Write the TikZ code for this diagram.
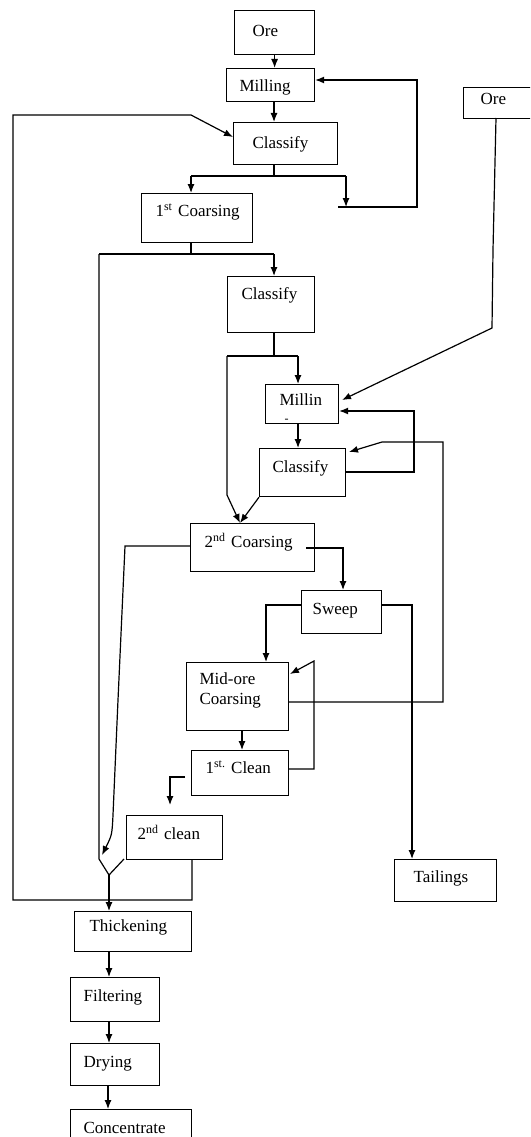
\documentclass[tikz,border=0pt]{standalone}
\usepackage{fontspec}
\setmainfont{Liberation Serif}
\usepackage{tikz}
\usetikzlibrary{arrows.meta}
\tikzset{>={Latex[length=9pt,width=7pt]}}
\tikzset{stage/.style n args={4}{draw, anchor=north west, inner sep=0pt,
    align=left, text width=#1pt, text height=#3pt, text depth=#4pt,
    execute at begin node={\leftskip=#2pt\relax},
    font=\fontsize{17}{20}\selectfont}}

\begin{document}
\begin{tikzpicture}[x=1pt, y=-1pt, line width=1.2pt]
    \path [use as bounding box, clip] (0,0) rectangle (530,1137);

    \node [stage={80}{18}{26}{18}] (ore) at (234,10) {Ore};
    \node [stage={88}{13}{23}{10}] (milling) at (226,68) {Milling};
    \node [stage={104}{19}{26}{16}] (cls1) at (233,122) {Classify};
    \node [stage={111}{14}{23}{26}] (coarse1) at (141,193)
    {1\textsuperscript{st}~Coarsing};
    \node [stage={70}{17}{17}{14}] (ore2) at (463,87) {Ore};
    \node [stage={87}{14}{23}{33}] (cls2) at (227,276) {Classify};
    \node [stage={73}{14}{21}{18}] (millin) at (265,384)
    {Millin\\[-3pt]\hspace*{5pt}\fontsize{12}{12}\selectfont -};
    \node [stage={86}{13}{24}{24}] (cls3) at (259,448) {Classify};
    \node [stage={124}{14}{24}{24}] (coarse2) at (190,523)
    {2\textsuperscript{nd}~Coarsing};
    \node [stage={80}{11}{24}{19}] (sweep) at (301,590) {Sweep};
    \node [stage={102}{13}{22}{46}] (midore) at (186,662) {Mid-ore\\Coarsing};
    \node [stage={97}{14}{23}{22}] (clean1) at (191,750)
    {1\textsuperscript{st.}~Clean};
    \node [stage={96}{11}{24}{20}] (clean2) at (126,815)
    {2\textsuperscript{nd}~clean};
    \node [stage={102}{19}{23}{19}] (tailings) at (394,859) {Tailings};
    \node [stage={117}{15}{20}{20}] (thick) at (74,911) {Thickening};
    \node [stage={89}{13}{24}{20}] (filter) at (70,977) {Filtering};
    \node [stage={89}{13}{24}{18}] (dry) at (70,1043) {Drying};
    \node [stage={121}{13}{24}{20}] (conc) at (70,1109) {Concentrate};

    % first grinding circuit
    \coordinate (s1) at (274,176);
    \coordinate (s1l) at (191,176);
    \coordinate (s1r) at (346,176);
    \coordinate (t1) at (338,207);
    \coordinate (t1r) at (417,207);
    \coordinate (m1) at (417,80);

    \draw [->] (ore.south) -- (ore.south |- milling.north);
    \draw [->] (milling.south -| s1) -- (cls1.north -| s1);
    \draw (cls1.south -| s1) -- (s1);
    \draw (s1l) -- (s1r);
    \draw [->] (s1l) -- (s1l |- coarse1.north);
    \draw [->] (s1r) -- (s1r |- t1);
    \draw [->] (t1) -- (t1r) -- (m1) -- (milling.east |- m1);

    % return loop from 2nd clean
    \coordinate (b1) at (192,900);
    \coordinate (b2) at (13,900);
    \coordinate (b3) at (13,115);
    \coordinate (b4) at (191,115);
    \coordinate (b5) at (233,137);

    \draw [->] (clean2.south -| b1) -- (b1) -- (b2) -- (b3) -- (b4) -- (b5);

    % 1st coarsing split
    \coordinate (s2) at (191,254);
    \coordinate (s2l) at (99,254);
    \coordinate (s2r) at (274,254);
    \coordinate (v1) at (99,859);
    \coordinate (v0) at (109,875);
    \coordinate (v2) at (124,859);

    \draw (coarse1.south -| s2) -- (s2);
    \draw (s2l) -- (s2r);
    \draw [->] (s2r) -- (s2r |- cls2.north);
    \draw (s2l) -- (v1) -- (v0) -- (v2);
    \draw [->] (v0) -- (v0 |- thick.north);

    % second grinding circuit
    \coordinate (s3) at (274,356);
    \coordinate (s3l) at (227,356);
    \coordinate (s3r) at (298,356);
    \coordinate (k1) at (227,495);
    \coordinate (k0) at (240,523);

    \draw (cls2.south -| s3) -- (s3);
    \draw (s3l) -- (s3r);
    \draw [->] (s3r) -- (s3r |- millin.north);
    \draw [->] (s3l) -- (k1) -- (k0);
    \draw [->] (cls3.south west) -- (k0);
    \draw [->] (millin.south -| s3r) -- (cls3.north -| s3r);

    \coordinate (r3) at (414,472);
    \coordinate (r3t) at (414,411);
    \draw [->] (cls3.east |- r3) -- (r3) -- (r3t) -- (millin.east |- r3t);

    \coordinate (o2) at (496,118);
    \coordinate (o2a) at (493,250);
    \coordinate (o2b) at (492,328);
    \coordinate (o2e) at (342,400);
    \draw [->] (o2) -- (o2a) -- (o2b) -- (o2e);

    % 2nd coarsing and sweep
    \coordinate (c2l) at (125,546);
    \coordinate (c2a) at (118,700);
    \coordinate (c2b) at (113,815);
    \coordinate (c2e) at (102,855);
    \draw [->] (coarse2.west |- c2l) -- (c2l) -- (c2a) -- (c2b)
    .. controls (112,835) .. (c2e);

    \coordinate (q1) at (306,548);
    \coordinate (q2) at (343,548);
    \draw [->] (q1) -- (q2) -- (q2 |- sweep.north);

    \coordinate (w1) at (266,605);
    \coordinate (w2) at (412,605);
    \draw [->] (sweep.west |- w1) -- (w1) -- (w1 |- midore.north);
    \draw [->] (sweep.east |- w2) -- (w2) -- (w2 |- tailings.north);

    % mid-ore and cleaning
    \coordinate (m2) at (443,702);
    \coordinate (m2t) at (443,442);
    \coordinate (m2k) at (382,442);
    \coordinate (m2e) at (349,452);
    \draw [->] (midore.east |- m2) -- (m2) -- (m2t) -- (m2k) -- (m2e);

    \coordinate (m3) at (242,731);
    \draw [->] (midore.south -| m3) -- (clean1.north -| m3);

    \coordinate (n1) at (314,769);
    \coordinate (n1t) at (314,661);
    \coordinate (n1e) at (290,674);
    \draw [->] (clean1.east |- n1) -- (n1) -- (n1t) -- (n1e);

    \coordinate (l1) at (185,777);
    \coordinate (l2) at (170,777);
    \coordinate (l3) at (170,805);
    \draw [->] (l1) -- (l2) -- (l3);

    % dewatering
    \draw [->] (thick.south -| v0) -- (filter.north -| v0);
    \draw [->] (filter.south -| v0) -- (dry.north -| v0);
    \draw [->] (dry.south -| 108,0) -- (conc.north -| 108,0);

  \end{tikzpicture}
\end{document}
